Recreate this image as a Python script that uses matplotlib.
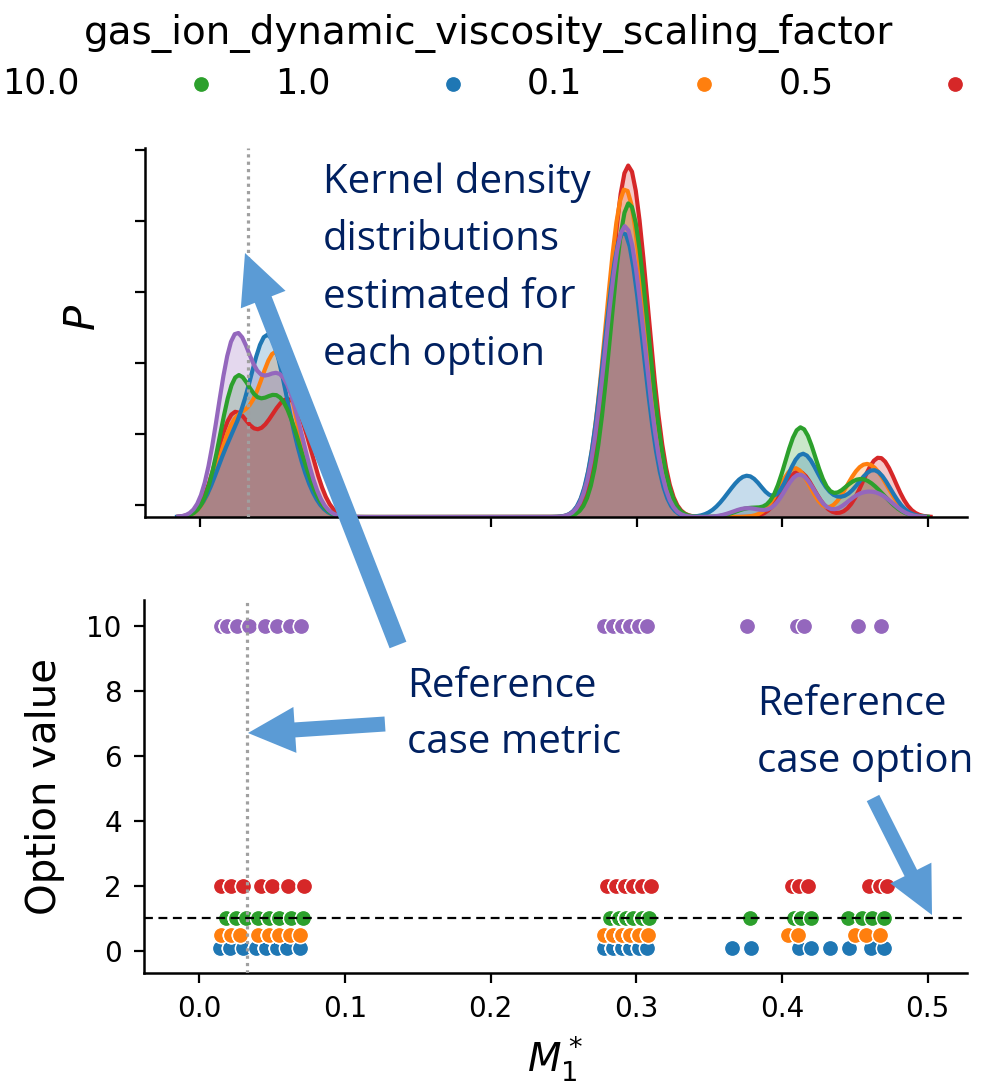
import numpy as np
import matplotlib.pyplot as plt
import seaborn as sns
from matplotlib.patches import FancyArrow

plt.rcParams['font.family'] = ['DejaVu Sans']

# option values of the scanned parameter, in legend order
options = [10.0, 1.0, 0.1, 0.5, 2.0]
option_colors = ['#9467bd', '#2ca02c', '#1f77b4', '#ff7f0e', '#d62728']

# M1* of the runs for each option: distinct values and number of runs at each
m1_opt10 = [0.015, 0.019, 0.026, 0.034, 0.045, 0.053, 0.062, 0.070,
            0.278, 0.284, 0.290, 0.296, 0.302, 0.307,
            0.376, 0.410, 0.415, 0.452, 0.468]
runs_opt10 = [2, 8, 9, 5, 5, 7, 6, 3,
              4, 7, 13, 10, 6, 3,
              1, 3, 2, 2, 2]

m1_opt1 = [0.018, 0.025, 0.032, 0.040, 0.048, 0.055, 0.063, 0.071,
           0.282, 0.288, 0.293, 0.298, 0.304, 0.309,
           0.378, 0.408, 0.413, 0.420, 0.445, 0.455, 0.462, 0.470]
runs_opt1 = [4, 10, 2, 3, 5, 5, 4, 2,
             4, 8, 13, 10, 6, 4,
             1, 3, 6, 2, 2, 2, 1, 1]

m1_opt01 = [0.014, 0.021, 0.030, 0.039, 0.046, 0.053, 0.060, 0.069,
            0.278, 0.284, 0.290, 0.296, 0.302, 0.307,
            0.366, 0.379, 0.412, 0.420, 0.433, 0.446, 0.461, 0.470]
runs_opt01 = [2, 5, 2, 8, 8, 8, 2, 3,
              5, 9, 13, 10, 6, 2,
              2, 4, 6, 2, 1, 1, 4, 2]

m1_opt05 = [0.015, 0.022, 0.028, 0.040, 0.048, 0.055, 0.062, 0.069,
            0.278, 0.284, 0.290, 0.296, 0.302, 0.308,
            0.404, 0.411, 0.450, 0.458, 0.467]
runs_opt05 = [2, 5, 4, 4, 7, 8, 4, 2,
              4, 9, 14, 12, 7, 4,
              2, 4, 3, 2, 3]

m1_opt2 = [0.015, 0.022, 0.030, 0.042, 0.050, 0.061, 0.072,
           0.280, 0.286, 0.292, 0.298, 0.304, 0.310,
           0.407, 0.412, 0.418, 0.460, 0.467, 0.472]
runs_opt2 = [3, 7, 4, 3, 5, 8, 6,
             4, 10, 16, 14, 8, 4,
             2, 3, 1, 2, 4, 2]

m1_values = [m1_opt10, m1_opt1, m1_opt01, m1_opt05, m1_opt2]
m1_runs = [runs_opt10, runs_opt1, runs_opt01, runs_opt05, runs_opt2]

ref_metric = 0.033   # reference case M1*
ref_option = 1.0     # reference case option
kde_bw = 0.01

fig = plt.figure(figsize=(9.89, 10.85), dpi=100)
ax_kde = fig.add_axes([0.1466, 0.5235, 0.8311, 0.3401])
ax_sc = fig.add_axes([0.1456, 0.1032, 0.8321, 0.3438])

samples = [np.repeat(v, n) for v, n in zip(m1_values, m1_runs)]

# kernel densities: fills first, then outlines (purple outline on top)
for i in [1, 3, 0, 2, 4]:
    x = samples[i]
    sns.kdeplot(x=x, ax=ax_kde, color=option_colors[i], fill=True, alpha=0.25,
                linewidth=0, bw_method=kde_bw / np.std(x, ddof=1), cut=3)
for i in [4, 3, 2, 1, 0]:
    x = samples[i]
    sns.kdeplot(x=x, ax=ax_kde, color=option_colors[i], linewidth=3.0,
                bw_method=kde_bw / np.std(x, ddof=1), cut=3)

ax_kde.set_xlim(-0.038, 0.527)
top = ax_kde.get_ylim()[1]
ax_kde.set_ylim(0, top)
ax_kde.set_yticks(np.linspace(0.0325, 0.995, 6) * top)
ax_kde.set_xticks([0.0, 0.1, 0.2, 0.3, 0.4, 0.5])
ax_kde.tick_params(labelbottom=False, labelleft=False, length=7, width=1.6)
ax_kde.set_ylabel('$P$', fontsize=30)
ax_kde.yaxis.set_label_coords(-0.050, 0.54)
ax_kde.set_xlabel('')
ax_kde.axvline(ref_metric, color='#a0a0a0', ls=(0, (1, 1.3)), lw=2.3, zorder=5)

# scatter of the runs, one row per option
handles = {}
for i in [2, 3, 1, 4, 0]:
    x = samples[i]
    handles[i] = ax_sc.scatter(x, np.full(len(x), options[i]), s=135,
                               color=option_colors[i], edgecolor='white',
                               linewidth=1.0, label=str(options[i]), zorder=3)

ax_sc.set_xlim(-0.038, 0.527)
ax_sc.set_ylim(-0.68, 10.8)
ax_sc.set_xticks([0.0, 0.1, 0.2, 0.3, 0.4, 0.5])
ax_sc.set_yticks([0, 2, 4, 6, 8, 10])
ax_sc.tick_params(labelsize=20, length=7, width=1.6, pad=9)
ax_sc.axvline(ref_metric, color='#a0a0a0', ls=(0, (1, 1.3)), lw=2.3, zorder=5)
ax_sc.axhline(ref_option, color='black', ls=(0, (4, 2.5)), lw=1.6, zorder=5)
ax_sc.set_ylabel('Option value', fontsize=29)
ax_sc.yaxis.set_label_coords(-0.096, 0.5)
ax_sc.set_xlabel('$M_1^*$', fontsize=28, labelpad=8)

for ax in (ax_kde, ax_sc):
    ax.spines[['top', 'right']].set_visible(False)
    for side in ('left', 'bottom'):
        ax.spines[side].set_linewidth(1.8)

# wide legend, cropped by the figure edges as on the slide
fig.legend(handles=[handles[i] for i in range(5)], ncol=5,
           title='gas_ion_dynamic_viscosity_scaling_factor',
           loc='upper left', bbox_to_anchor=(-0.1173, 0.9954),
           frameon=False, fontsize=25, title_fontsize=28, markerscale=1.0,
           handlelength=2.0, handletextpad=1.15, columnspacing=2.5,
           borderaxespad=0, borderpad=0.25, labelspacing=0.4)

# slide annotations (positions in output pixels)
note_color = '#002060'
arrow_color = '#5b9bd5'
H = 1085


def arrow(tail, tip, width, head_width, head_length):
    x0, y0 = tail[0] / 100, (H - tail[1]) / 100
    x1, y1 = tip[0] / 100, (H - tip[1]) / 100
    fig.add_artist(FancyArrow(x0, y0, x1 - x0, y1 - y0, width=width / 100,
                              head_width=head_width / 100,
                              head_length=head_length / 100,
                              length_includes_head=True, color=arrow_color,
                              lw=0, transform=fig.dpi_scale_trans, zorder=10))


def note(x, y, s):
    fig.text(x / 989, 1 - y / H, s, ha='left', va='baseline', fontsize=29,
             color=note_color, family=['Open Sans', 'DejaVu Sans'], zorder=11)


arrow((398, 645), (245, 253), 18, 48, 50)
arrow((385, 724), (248, 733), 15, 46, 47)
arrow((873, 798), (932, 915), 14, 46, 47)

for k, line in enumerate(['Kernel density', 'distributions',
                          'estimated for', 'each option']):
    note(323, 193 + 57.3 * k, line)
for k, line in enumerate(['Reference', 'case metric']):
    note(407, 697 + 56 * k, line)
for k, line in enumerate(['Reference', 'case option']):
    note(757, 715 + 57 * k, line)

fig.savefig('out.png', dpi=100)
